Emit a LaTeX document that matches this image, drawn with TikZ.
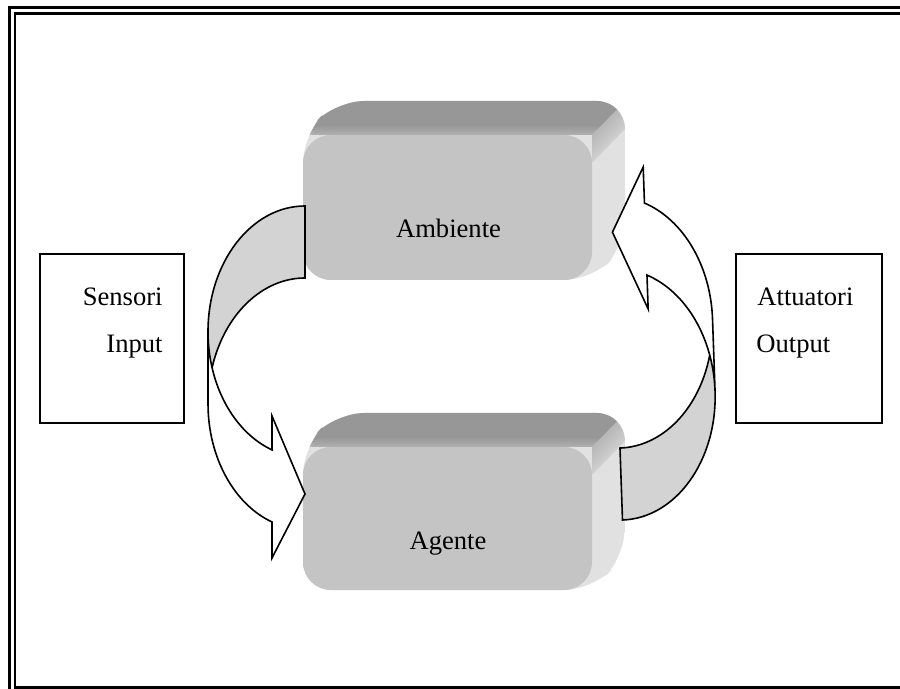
\documentclass[tikz,border=0pt]{standalone}
\usepackage{fontspec}
\setmainfont{Liberation Serif}

\definecolor{frontgray}{HTML}{C4C4C4}
\definecolor{topdark}{HTML}{979797}
\definecolor{toplight}{HTML}{B0B0B0}
\definecolor{sidegray}{HTML}{E1E1E1}
\definecolor{sidedark}{HTML}{A6A6A6}
\definecolor{bandgray}{HTML}{D3D3D3}

% gradient for the top face of the solid blocks
\pgfdeclareverticalshading{topface}{100bp}{color(0bp)=(toplight); color(25bp)=(toplight); color(40bp)=(topdark); color(100bp)=(topdark)}

% solid block: front face from (#1,#2) to (#3,#4), extruded up and to the right
\newcommand{\extrudedbox}[4]{%
  \begin{scope}
    \clip[rounded corners=14] (#1,#4) -- (#1,#2) -- ({#1+33},{#2-34}) -- ({#3+33},{#2-34})
      -- ({#3+33},{#4-34}) -- (#3,#4) -- cycle;
    % right face
    \fill[sidegray] (#1,{#2-34}) rectangle ({#3+33},#4);
    % bevel between top and right faces
    \shade[top color=sidedark, bottom color=sidegray, shading angle=45]
      (#3,#2) -- ({#3+33},{#2-34}) -- ({#3+33},{#2-6}) -- (#3,{#2+28}) -- cycle;
    % top face
    \shade[shading=topface] (#1,#2) -- ({#1+33},{#2-34}) -- ({#3+33},{#2-34}) -- (#3,#2) -- cycle;
  \end{scope}
  \fill[frontgray, rounded corners=14] (#1,#2) rectangle (#3,#4);
}

% curved ribbon arrow, tail at the origin, head pointing right at the bottom
\newcommand{\bandarrow}{%
  % turned-over part of the ribbon
  \fill[bandgray] (0,72) arc[start angle=270, end angle=196.64, x radius=97, y radius=125.7]
    arc[start angle=163.36, end angle=270, x radius=97, y radius=125.7] -- cycle;
  % front part with the head
  \fill[white] (-97,125.7) arc[start angle=180, end angle=109.9, x radius=97, y radius=125.7]
    -- (-33,210) -- (0,288) -- (-33,352) -- (-33,316)
    arc[start angle=109.9, end angle=180, x radius=97, y radius=125.7] -- cycle;
  % outline
  \draw[bandline] (-97,125.7) arc[start angle=180, end angle=109.9, x radius=97, y radius=125.7]
    -- (-33,210) -- (0,288) -- (-33,352) -- (-33,316)
    arc[start angle=109.9, end angle=180, x radius=97, y radius=125.7]
    -- (-97,125.7) arc[start angle=180, end angle=270, x radius=97, y radius=125.7]
    -- (0,72) arc[start angle=270, end angle=196.64, x radius=97, y radius=125.7];
}

\begin{document}
\begin{tikzpicture}[x=0.5pt, y=-0.5pt,
  frameline/.style={line width=1.25pt, black},
  labelbox/.style={draw, line width=0.75pt, fill=white},
  bandline/.style={line width=0.8pt, line join=miter},
  lbl/.style={inner sep=0pt, font=\fontsize{13.3}{16}\selectfont}]

  % page area
  \fill[white] (0,0) rectangle (900,689);
  \useasboundingbox (0,0) rectangle (900,689);

  % double frame
  \draw[frameline] (9.5,689) -- (9.5,7.5) -- (900,7.5);
  \draw[frameline] (900,13.5) -- (14.8,13.5) -- (14.8,687.5) -- (900,687.5);

  % side boxes
  \draw[labelbox] (40,254) rectangle (184,423);
  \draw[labelbox] (736,254) rectangle (882,423);
  \node[lbl, anchor=base east] (sensori) at (163,306) {Sensori};
  \node[lbl, anchor=base east] (input) at (163,353) {Input};
  \node[lbl, anchor=base west] (attuatori) at (757,306) {Attuatori};
  \node[lbl, anchor=base west] (output) at (756,353) {Output};

  % blocks
  \extrudedbox{303}{135}{592}{280}
  \extrudedbox{303}{447}{592}{590}

  % ribbon arrows
  \begin{scope}[shift={(305,206)}]
    \bandarrow
  \end{scope}
  \begin{scope}[shift={(622.5,520)}, rotate=182]
    \bandarrow
  \end{scope}

  % block labels
  \node[lbl, anchor=base] (ambiente) at (448.5,237.7) {Ambiente};
  \node[lbl, anchor=base] (agente) at (448,550) {Agente};
\end{tikzpicture}
\end{document}
